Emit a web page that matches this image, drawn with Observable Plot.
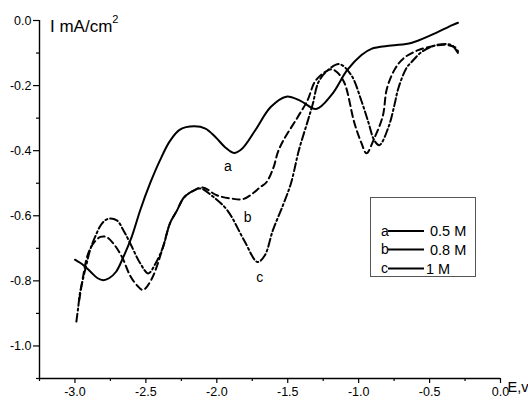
<!DOCTYPE html>
<html>
<head>
<meta charset="utf-8">
<script src="https://cdn.jsdelivr.net/npm/d3@7"></script>
<script src="https://cdn.jsdelivr.net/npm/@observablehq/plot@0.6"></script>
<style>
  html, body { margin: 0; padding: 0; background: #fff; }
  #chart { width: 528px; height: 401px; }
</style>
</head>
<body>
<div id="chart"></div>
<script>
// Curve a: 0.5 M (solid)
const curveA = [
  [-3.00,-0.735],[-2.94,-0.752],[-2.89,-0.772],[-2.84,-0.792],[-2.80,-0.798],[-2.76,-0.792],
  [-2.71,-0.772],[-2.66,-0.728],[-2.60,-0.665],[-2.54,-0.583],[-2.47,-0.500],[-2.40,-0.429],
  [-2.33,-0.370],[-2.26,-0.335],[-2.16,-0.325],[-2.08,-0.332],[-2.01,-0.358],[-1.94,-0.390],
  [-1.88,-0.407],[-1.82,-0.393],[-1.73,-0.338],[-1.62,-0.266],[-1.51,-0.234],[-1.41,-0.247],
  [-1.30,-0.272],[-1.19,-0.228],[-1.08,-0.152],[-0.98,-0.106],[-0.91,-0.087],[-0.77,-0.077],
  [-0.63,-0.069],[-0.49,-0.045],[-0.34,-0.014],[-0.30,-0.007]
];
// Curve b: 0.8 M (dashed)
const curveB = [
  [-2.97,-0.860],[-2.94,-0.780],[-2.91,-0.720],[-2.87,-0.685],[-2.82,-0.665],[-2.78,-0.665],
  [-2.73,-0.685],[-2.67,-0.725],[-2.61,-0.785],[-2.56,-0.815],[-2.52,-0.828],[-2.46,-0.795],
  [-2.38,-0.697],[-2.33,-0.623],[-2.28,-0.583],[-2.23,-0.543],[-2.16,-0.522],[-2.10,-0.513],
  [-2.00,-0.537],[-1.90,-0.547],[-1.81,-0.548],[-1.69,-0.511],[-1.65,-0.497],[-1.60,-0.451],
  [-1.57,-0.405],[-1.53,-0.368],[-1.43,-0.297],[-1.36,-0.245],[-1.31,-0.189],[-1.25,-0.162],
  [-1.19,-0.150],[-1.15,-0.160],[-1.10,-0.192],[-1.03,-0.315],[-0.98,-0.377],[-0.945,-0.408],
  [-0.89,-0.362],[-0.83,-0.294],[-0.80,-0.208],[-0.74,-0.146],[-0.68,-0.115],[-0.58,-0.091],
  [-0.47,-0.078],[-0.38,-0.075],[-0.31,-0.085],[-0.30,-0.095]
];
// Curve c: 1 M (dash-dot)
const curveC = [
  [-2.99,-0.925],[-2.977,-0.881],[-2.965,-0.838],[-2.94,-0.788],[-2.917,-0.746],[-2.894,-0.706],
  [-2.858,-0.665],[-2.81,-0.624],[-2.764,-0.609],[-2.705,-0.614],[-2.658,-0.645],[-2.61,-0.685],
  [-2.54,-0.746],[-2.483,-0.777],[-2.43,-0.745],[-2.38,-0.697],[-2.33,-0.623],[-2.28,-0.583],
  [-2.23,-0.543],[-2.16,-0.522],[-2.115,-0.516],[-2.03,-0.540],[-1.926,-0.583],[-1.808,-0.675],
  [-1.713,-0.742],[-1.662,-0.722],[-1.605,-0.645],[-1.534,-0.568],[-1.477,-0.500],[-1.421,-0.398],
  [-1.357,-0.306],[-1.322,-0.254],[-1.286,-0.192],[-1.23,-0.158],[-1.137,-0.134],[-1.052,-0.168],
  [-0.982,-0.245],[-0.932,-0.312],[-0.89,-0.368],[-0.854,-0.383],[-0.79,-0.328],[-0.748,-0.260],
  [-0.72,-0.208],[-0.663,-0.146],[-0.628,-0.128],[-0.557,-0.097],[-0.472,-0.078],[-0.38,-0.072],
  [-0.337,-0.078],[-0.30,-0.100]
];
const curveLabels = [
  {E: -1.922, I: -0.448, name: "a"},
  {E: -1.782, I: -0.605, name: "b"},
  {E: -1.697, I: -0.789, name: "c"}
];
const legendKeys = ["a", "b", "c"];
const legendNames = ["0.5 M", "0.8 M", "1 M"];
const xMajor = [-3.0, -2.5, -2.0, -1.5, -1.0, -0.5, 0.0];
const xMinor = [-3.25, -2.75, -2.25, -1.75, -1.25, -0.75, -0.25];
const yMajor = [0.0, -0.2, -0.4, -0.6, -0.8, -1.0];
const yMinor = [-0.1, -0.3, -0.5, -0.7, -0.9, -1.1];
const xDomain = [-3.25, 0];
const yDomain = [-1.1, 0];

const fmt = d => d.toFixed(1);
const font = "'Liberation Sans', Arial, sans-serif";

const svg = Plot.plot({
  width: 528,
  height: 401,
  marginLeft: 39,
  marginRight: 28,
  marginTop: 20,
  marginBottom: 23,
  style: {fontFamily: font, background: "white", color: "black"},
  x: {domain: xDomain},
  y: {domain: yDomain},
  marks: [
    Plot.axisX(xMajor, {tickSize: 5, tickPadding: 4, tickFormat: fmt, fontSize: 12.5, label: null, strokeWidth: 1.2}),
    Plot.axisX(xMinor, {tickSize: 3, fill: "none", label: null, strokeWidth: 1.2}),
    Plot.axisY(yMajor, {tickSize: 6, tickPadding: 2, tickFormat: fmt, fontSize: 12.5, label: null, strokeWidth: 1.2}),
    Plot.axisY(yMinor, {tickSize: 3, fill: "none", label: null, strokeWidth: 1.2}),
    Plot.ruleX([xDomain[0]], {strokeWidth: 1.4}),
    Plot.ruleY([yDomain[0]], {strokeWidth: 1.4}),
    Plot.line(curveA, {x: d => d[0], y: d => d[1], curve: "catmull-rom", stroke: "black", strokeWidth: 2}),
    Plot.line(curveB, {x: d => d[0], y: d => d[1], curve: "catmull-rom", stroke: "black", strokeWidth: 2, strokeDasharray: "7,4"}),
    Plot.line(curveC, {x: d => d[0], y: d => d[1], curve: "catmull-rom", stroke: "black", strokeWidth: 2, strokeDasharray: "8,3,2,3"}),
    Plot.text(curveLabels, {x: "E", y: "I", text: "name", fontSize: 14, fill: "black"})
  ]
});

const s = d3.select(svg);
const addText = (x, y, size, str) => s.append("text").attr("x", x).attr("y", y)
  .attr("font-family", font).attr("font-size", size).attr("text-anchor", "start")
  .attr("fill", "black").text(str);
// y axis title
const yt = addText(50, 32, 17, null);
yt.append("tspan").text("I mA/cm");
yt.append("tspan").attr("dy", -9).attr("font-size", 11).text("2");
// x axis title
addText(507.5, 392, 14.5, "E,v");

// legend
s.append("rect").attr("x", 370.5).attr("y", 197.5).attr("width", 105).attr("height", 79)
  .attr("fill", "white").attr("stroke", "#555").attr("stroke-width", 1);
const rowY = [231, 249.5, 268.5];
legendKeys.forEach((k, i) => {
  addText(381, rowY[i] + 4.5, 14, k);
  s.append("line").attr("x1", 388).attr("x2", 424).attr("y1", rowY[i]).attr("y2", rowY[i])
    .attr("stroke", "black").attr("stroke-width", 2);
  addText(i === 2 ? 426 : 430, rowY[i] + 5, 14.5, legendNames[i]);
});

document.getElementById("chart").appendChild(svg);
</script>
</body>
</html>
